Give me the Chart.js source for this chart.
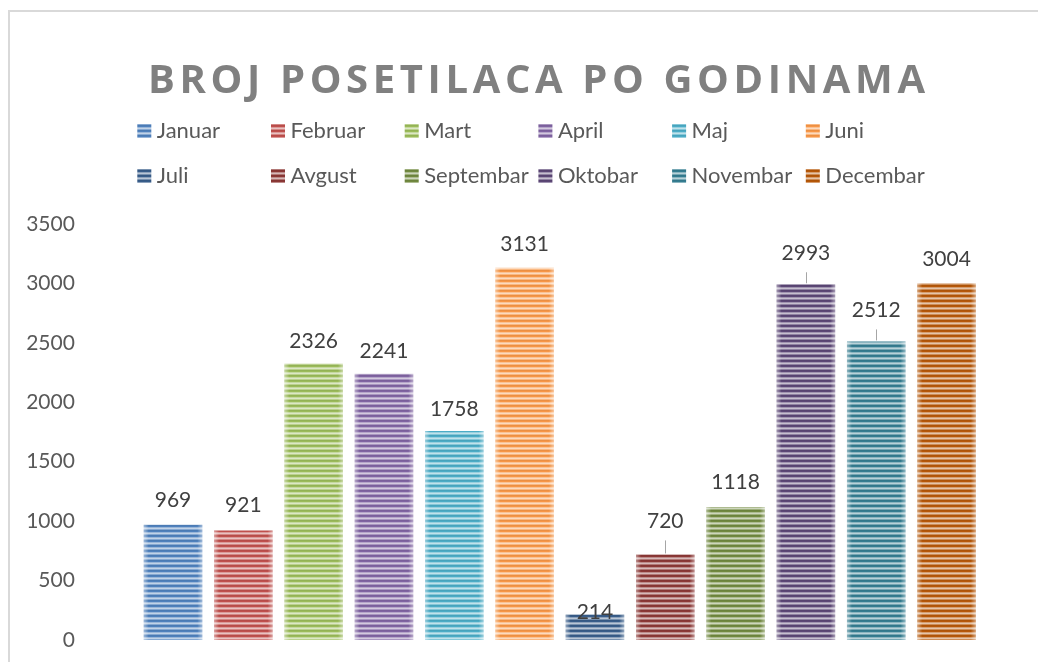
<!DOCTYPE html>
<html><head><meta charset="utf-8">
<script src="https://cdn.jsdelivr.net/npm/chart.js@4/dist/chart.umd.min.js"></script>
<style>html,body{margin:0;padding:0;background:#fff;overflow:hidden}canvas{display:block}</style>
</head><body>
<canvas id="c" width="1038" height="662"></canvas>
<script>
const chartTitle = 'BROJ POSETILACA PO GODINAMA';
const months = ['Januar','Februar','Mart','April','Maj','Juni','Juli','Avgust','Septembar','Oktobar','Novembar','Decembar'];
const visitors = [969, 921, 2326, 2241, 1758, 3131, 214, 720, 1118, 2993, 2512, 3004];
const yTicks = [0, 500, 1000, 1500, 2000, 2500, 3000, 3500];

// styles
const colors = ['#4f81bd','#c0504d','#9bbb59','#8064a2','#4bacc6','#f79646','#385d8a','#8c3836','#71893f','#5c4776','#357d91','#b65708'];
const labelDy = [-25,-25,-22,-22,-22,-24,-2,-33,-25,-31,-31,-24];
const hasLeader = [false,false,false,false,false,false,false,true,false,true,true,false];

function hexToRgb(h){const n=parseInt(h.slice(1),16);return [(n>>16)&255,(n>>8)&255,n&255];}
function mix(h,t){const c=hexToRgb(h);return 'rgb('+c.map(v=>Math.round(v+(255-v)*t)).join(',')+')';}
function shade(h,t){const c=hexToRgb(h);return 'rgb('+c.map(v=>Math.round(v*(1-t))).join(',')+')';}
function makePattern(col){
  const cv=document.createElement('canvas');cv.width=4;cv.height=5;
  const g=cv.getContext('2d');
  const rows=[shade(col,0.05), col, mix(col,0.42), mix(col,0.65), mix(col,0.32)];
  rows.forEach((r,i)=>{g.fillStyle=r;g.fillRect(0,i,4,1);});
  return g.createPattern(cv,'repeat');
}
const ctx0=document.getElementById('c').getContext('2d');
const patterns=colors.map(makePattern);

const decor={
  id:'decor',
  beforeDraw(chart){
    const ctx=chart.ctx;
    ctx.save();
    ctx.fillStyle='#fff';ctx.fillRect(0,0,chart.width,chart.height);
    ctx.strokeStyle='#d9d9d9';ctx.lineWidth=2;
    ctx.beginPath();ctx.moveTo(9,chart.height);ctx.lineTo(9,11);ctx.lineTo(chart.width,11);ctx.stroke();
    // title
    ctx.font='bold 40px "Open Sans"';
    ctx.fillStyle='#808080';
    ctx.textAlign='left';ctx.textBaseline='alphabetic';
    const w0=ctx.measureText(chartTitle).width;
    const sp=(777-w0)/(chartTitle.length-1);
    ctx.letterSpacing=sp+'px';
    ctx.fillText(chartTitle,148,92.5);
    ctx.letterSpacing='0px';
    // legend
    ctx.font='22px Lato';ctx.textBaseline='middle';
    months.forEach((m,i)=>{
      const col=i%6,row=Math.floor(i/6);
      const x=137.3+col*133.7, cy=131+row*45;
      ctx.fillStyle=patterns[i];
      ctx.fillRect(x,cy-7,14,14);
      ctx.fillStyle='#595959';
      ctx.fillText(m,x+19.5,cy);
    });
    ctx.restore();
  },
  afterDatasetsDraw(chart){
    const ctx=chart.ctx;
    ctx.save();
    chart.data.datasets.forEach((ds,i)=>{
      const el=chart.getDatasetMeta(i).data[0];
      const half=el.width/2, l=el.x-half, r=el.x+half, t=el.y, b=el.base;
      let g=ctx.createLinearGradient(l,0,l+5,0);
      g.addColorStop(0,'rgba(255,255,255,0.45)');g.addColorStop(1,'rgba(255,255,255,0)');
      ctx.fillStyle=g;ctx.fillRect(l,t,5,b-t);
      g=ctx.createLinearGradient(r,0,r-5,0);
      g.addColorStop(0,'rgba(255,255,255,0.45)');g.addColorStop(1,'rgba(255,255,255,0)');
      ctx.fillStyle=g;ctx.fillRect(r-5,t,5,b-t);
    });
    ctx.font='21px Lato';ctx.fillStyle='#404040';ctx.textAlign='center';ctx.textBaseline='middle';
    chart.data.datasets.forEach((ds,i)=>{
      const el=chart.getDatasetMeta(i).data[0];
      const cy=el.y+labelDy[i];
      ctx.fillText(String(ds.data[0]),el.x,cy);
      if(hasLeader[i]){
        ctx.strokeStyle='#a6a6a6';ctx.lineWidth=1;
        ctx.beginPath();ctx.moveTo(Math.round(el.x)+0.5,cy+19);ctx.lineTo(Math.round(el.x)+0.5,el.y-1);ctx.stroke();
      }
    });
    ctx.restore();
  }
};

new Chart(ctx0,{
  type:'bar',
  data:{
    labels:[''],
    datasets:months.map((m,i)=>({label:m,data:[visitors[i]],backgroundColor:patterns[i],borderWidth:0,barPercentage:0.832,categoryPercentage:1}))
  },
  options:{
    responsive:false,animation:false,devicePixelRatio:1,
    layout:{padding:{top:224,right:56.3,bottom:22,left:0}},
    plugins:{legend:{display:false},title:{display:false},tooltip:{enabled:false}},
    scales:{
      x:{display:false},
      y:{min:0,max:3500,
        afterBuildTicks(s){s.ticks=yTicks.map(v=>({value:v}));},
        afterFit(s){s.width=137.85;},
        grid:{display:false,drawTicks:true,tickLength:63},border:{display:false},
        ticks:{padding:0,color:'#595959',font:{family:'Lato',size:21},callback:v=>String(v)}
      }
    }
  },
  plugins:[decor]
});
</script>
</body></html>
